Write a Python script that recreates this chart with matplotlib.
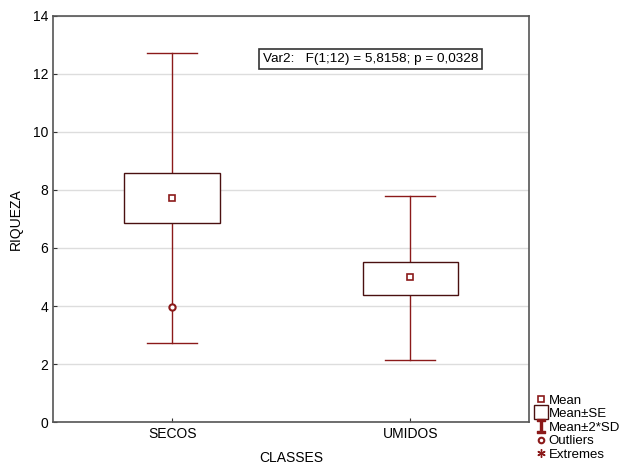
import matplotlib
matplotlib.use("Agg")
import matplotlib.pyplot as plt
from matplotlib.lines import Line2D
from matplotlib.patches import Rectangle

plt.rcParams["font.family"] = ["Liberation Sans", "DejaVu Sans"]

# values
classes = ["SECOS", "UMIDOS"]
means = [7.72, 5.00]
se_low = [6.86, 4.38]
se_high = [8.59, 5.52]
sd2_low = [2.72, 2.14]
sd2_high = [12.72, 7.79]
outlier_x = ["SECOS"]
outlier_y = [3.97]

RED = "#8b1a1a"
EDGE = "#4a1010"

fig = plt.figure(figsize=(6.2, 4.66), dpi=100)
ax = fig.add_axes([0.0855, 0.0944, 0.7685, 0.8713])

pos = {c: i for i, c in enumerate(classes)}
box_w = 0.40
cap_w = 0.21
for i, c in enumerate(classes):
    x = pos[c]
    # whiskers (mean +- 2*SD)
    ax.plot([x, x], [sd2_low[i], se_low[i]], color=RED, lw=1, zorder=2)
    ax.plot([x, x], [se_high[i], sd2_high[i]], color=RED, lw=1, zorder=2)
    ax.plot([x - cap_w / 2, x + cap_w / 2], [sd2_low[i]] * 2, color=RED, lw=1, zorder=2)
    ax.plot([x - cap_w / 2, x + cap_w / 2], [sd2_high[i]] * 2, color=RED, lw=1, zorder=2)
    # box (mean +- SE)
    ax.add_patch(Rectangle((x - box_w / 2, se_low[i]), box_w, se_high[i] - se_low[i],
                           facecolor="white", edgecolor=EDGE, lw=1, zorder=3))
    ax.plot(x, means[i], marker="s", ms=4.5, mfc="white", mec=RED, mew=1.2, zorder=4)

ax.plot([pos[c] for c in outlier_x], outlier_y, "o", ms=4.5, mfc="white", mec=RED,
        mew=1.5, zorder=4)

ax.set_xlim(-0.5, 1.5)
ax.set_ylim(0, 14)
ax.set_xticks(range(len(classes)))
ax.set_xticklabels(classes)
ax.set_yticks(range(0, 15, 2))
ax.yaxis.grid(True, color="#dddddd", lw=1)
ax.set_axisbelow(True)
ax.tick_params(direction="in", length=3, labelsize=10, colors="#333333",
               labelcolor="black")
for s in ax.spines.values():
    s.set_color("#555555")
    s.set_linewidth(1.2)
ax.set_xlabel("CLASSES", fontsize=10, labelpad=7)
ax.set_ylabel("RIQUEZA", fontsize=10, labelpad=7)

ax.text(0.44, 0.893, "Var2:   F(1;12) = 5,8158; p = 0,0328", transform=ax.transAxes,
        fontsize=9.7, va="center", ha="left",
        bbox=dict(boxstyle="square,pad=0.3", facecolor="white", edgecolor="#333333", lw=1.2))

handles = [
    Line2D([], [], ls="none", marker="s", ms=4, mfc="white", mec=RED, mew=1.2),
    Line2D([], [], ls="none", marker="s", ms=10, mfc="white", mec=EDGE, mew=1),
    Line2D([], [], ls="none", marker=r"$\mathtt{I}$", ms=10, color=RED),
    Line2D([], [], ls="none", marker="o", ms=4, mfc="white", mec=RED, mew=1.5),
    Line2D([], [], ls="none", marker=(6, 2, 0), ms=6, color=RED, mew=1),
]
labels = ["Mean", "Mean±SE", "Mean±2*SD", "Outliers", "Extremes"]
fig.legend(handles, labels, loc="lower left", bbox_to_anchor=(0.855, 0.0),
           frameon=False, fontsize=9.5, handlelength=0.8, handletextpad=0.2,
           labelspacing=0.1, borderpad=0.2, borderaxespad=0.2)

fig.savefig("out.png", dpi=100)
